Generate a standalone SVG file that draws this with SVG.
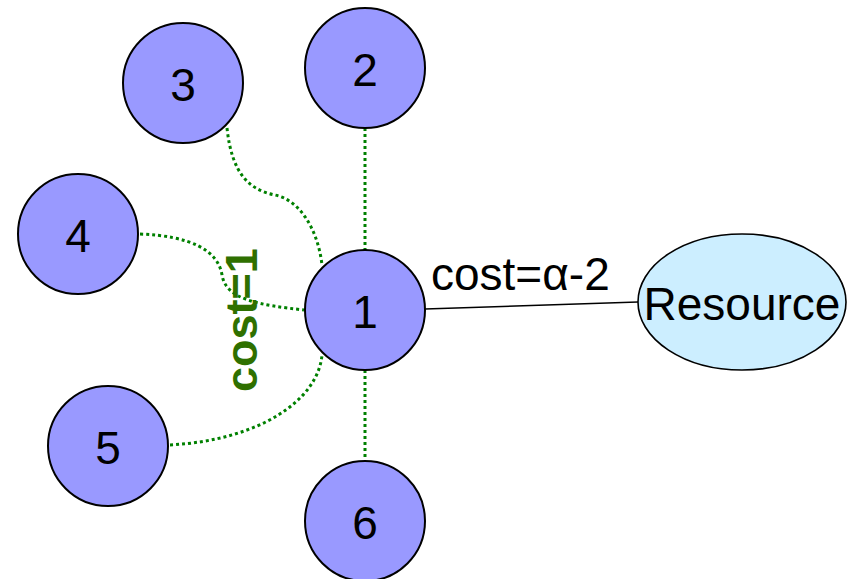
<svg xmlns="http://www.w3.org/2000/svg" width="850" height="579" viewBox="0 0 850 579">
  <style>
    .node { fill: #9999ff; stroke: #000; stroke-width: 2; }
    .res { fill: #cceeff; stroke: #000; stroke-width: 1.6; }
    .num { font-family: "Liberation Sans", Arial, sans-serif; font-size: 46px; fill: #000; text-anchor: middle; }
    .link { fill: none; stroke: #008000; stroke-width: 3; stroke-dasharray: 3 3; }
    .solid { fill: none; stroke: #000; stroke-width: 1.6; }
    .lbl { font-family: "Liberation Sans", Arial, sans-serif; fill: #000; }
    .cost { font-family: "Liberation Sans", Arial, sans-serif; font-size: 45px; font-weight: bold; fill: #2f7000; }
  </style>
  <rect width="850" height="579" fill="#fff"/>

  <!-- connectors -->
  <g id="connectors">
    <path class="link" d="M365,128 L365,250"/>
    <path class="link" d="M365,370 L365,460"/>
    <path class="link" d="M227,128 C232,175 250,190 275,195 C300,200 318,230 322,265"/>
    <path class="link" d="M140,234 C190,236 218,250 222,275 C226,300 260,305 304,310"/>
    <path class="link" d="M170,445 C260,440 318,400 322,355"/>
    <path class="solid" d="M425,309 L638,302"/>
    <text class="lbl" x="431" y="290" font-size="46">cost=α-2</text>
    <text class="cost" transform="translate(257,392) rotate(-90)">cost=1</text>
  </g>

  <g id="n1"><circle class="node" cx="365" cy="310" r="60"/><text class="num" x="365" y="328">1</text></g>
  <g id="n2"><circle class="node" cx="365" cy="68" r="60"/><text class="num" x="365" y="86">2</text></g>
  <g id="n3"><circle class="node" cx="183" cy="83" r="60"/><text class="num" x="183" y="101">3</text></g>
  <g id="n4"><circle class="node" cx="78" cy="234" r="60"/><text class="num" x="78" y="252">4</text></g>
  <g id="n5"><circle class="node" cx="108" cy="446" r="60"/><text class="num" x="108" y="464">5</text></g>
  <g id="n6"><circle class="node" cx="365" cy="521" r="60"/><text class="num" x="365" y="539">6</text></g>
  <g id="resource"><ellipse class="res" cx="742" cy="302" rx="104" ry="68"/><text class="lbl" x="742" y="320" font-size="46" text-anchor="middle">Resource</text></g>
</svg>
